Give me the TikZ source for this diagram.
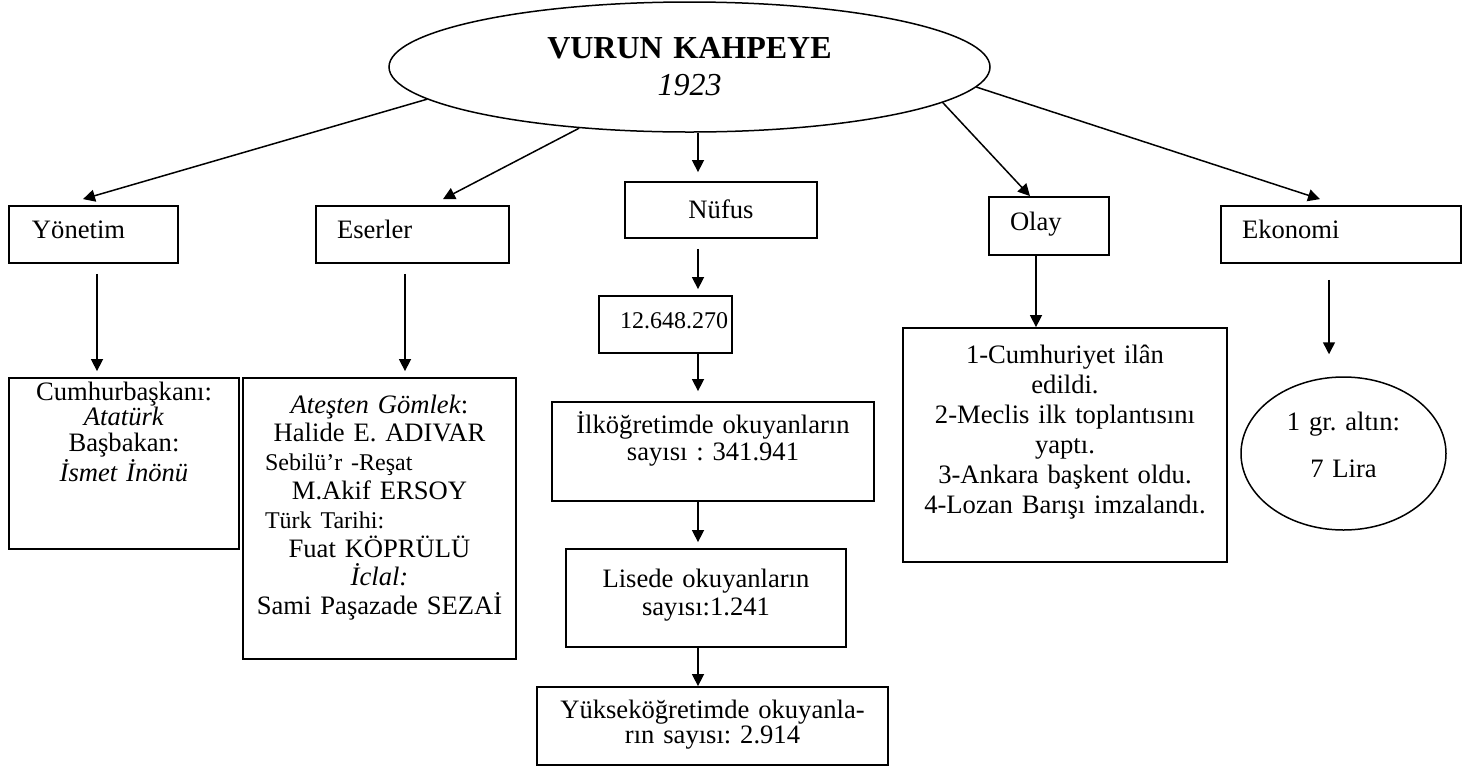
\documentclass[tikz,border=0pt]{standalone}
\usepackage{fontspec}
\setmainfont{Liberation Serif}
\usetikzlibrary{shapes.geometric, calc, arrows.meta}

\begin{document}
\frenchspacing
\begin{tikzpicture}[x=0.5pt, y=-0.5pt,
		box/.style={draw, line width=0.9pt, inner sep=0pt, font=\fontsize{13.3pt}{14.4pt}\selectfont},
		kap/.style={box, align=left, inner xsep=10.5pt, text height=16pt, text depth=12.5pt},
		orta/.style={box, align=center},
		oval/.style={box, ellipse, align=center, line width=0.75pt},
		arr/.style={-{Triangle[length=6pt,width=6pt]}, line width=0.75pt}]
	\useasboundingbox (0,0) rectangle (1463,767);
	
	\node[oval, minimum width=300.5pt, minimum height=65pt, text width=150pt, text height=13pt, text depth=22pt,
		font=\fontsize{16pt}{18.5pt}\selectfont] (top) at (689.5,67) {\textbf{VURUN KAHPEYE}\\ \textit{1923}};
	
	% ikinci sira
	\node[kap, text width=61.5pt, inner xsep=11.5pt] (yon) at (93.5,234.5) {Yönetim};
	\node[kap, text width=75.5pt] (eser) at (412.5,234.5) {Eserler};
	\node[orta, text width=96pt, text height=18pt, text depth=10pt] (nuf) at (721,210) {Nüfus};
	\node[kap, text width=39pt, text height=16.5pt] (olay) at (1049,226) {Olay};
	\node[kap, text width=99pt] (eko) at (1341,234.5) {Ekonomi};
	
	% alt kutular
	\node[kap, text width=66.5pt, inner xsep=0pt, font=\fontsize{12pt}{14.4pt}\selectfont] (nufsay) at (665.5,324.5)
		{\hspace*{10.5pt}12.648.270};
	\node[orta, text width=115pt, text height=11pt, text depth=74.5pt,
		font=\fontsize{13.3pt}{12.85pt}\selectfont] (cumhur) at (124,463.5)
		{Cumhurbaşkanı:\\ \textit{Atatürk}\\ Başbakan:\\ \textit{İsmet İnönü}};
	\node[orta, text width=136.5pt, text height=17.5pt, text depth=123pt] (eserb) at (379.5,518.5)
		{\textit{Ateşten Gömlek}:\\ Halide E. ADIVAR\\
		\makebox[\linewidth][l]{\hspace*{11pt}\fontsize{12pt}{14.4pt}\selectfont Sebilü’r -Reşat}\\
		M.Akif ERSOY\\
		\makebox[\linewidth][l]{\hspace*{11pt}\fontsize{12pt}{14.4pt}\selectfont Türk Tarihi:}\\
		Fuat KÖPRÜLÜ\\ \textit{İclal:}\\ Sami Paşazade SEZAİ};
	\node[orta, text width=161pt, text height=15.5pt, text depth=34pt,
		font=\fontsize{13.3pt}{13.5pt}\selectfont] (ilk) at (713,451.5) {İlköğretimde okuyanların\\ sayısı : 341.941};
	\node[orta, text width=140pt, text height=19pt, text depth=30pt,
		font=\fontsize{13.3pt}{14pt}\selectfont] (lise) at (706,598) {Lisede okuyanların\\ sayısı:1.241};
	\node[orta, text width=175.5pt, text height=15.5pt, text depth=23.5pt,
		font=\fontsize{13.3pt}{12.5pt}\selectfont] (yuk) at (712.5,726) {Yükseköğretimde okuyanla-\\ rın sayısı: 2.914};
	\node[orta, text width=162pt, text height=17.5pt, text depth=99.5pt,
		font=\fontsize{13.3pt}{15pt}\selectfont] (olayb) at (1065,445)
		{1-Cumhuriyet ilân\\ edildi.\\ 2-Meclis ilk toplantısını\\ yaptı.\\ 3-Ankara başkent oldu.\\ 4-Lozan Barışı imzalandı.};
	\node[oval, minimum width=102.5pt, minimum height=76.5pt, text width=70pt, text height=10pt, text depth=33.5pt,
		font=\fontsize{13.3pt}{23.5pt}\selectfont] (kur) at (1343.5,453.5) {1 gr. altın:\\ 7 Lira};
	
	\coordinate (ncol) at (698,0);
	
	\path[arr] (top.187.4) edge ($(yon.north)+(-10.5,-6)$)
		(top.209.7) edge ($(eser.north)+(30.5,-6)$)
		(top.south -| ncol) edge ($(nuf.north -| ncol)+(0,-9)$)
		(top.352.7) edge ($(olay.north)+(-19,0)$)
		(top.356.8) edge ($(eko.north)+(-21,-6)$)
		($(yon.south)+(3.5,10)$) edge ($(cumhur.north -| yon.south)+(3.5,-6)$)
		($(eser.south)+(-7.5,10)$) edge ($(eserb.north -| eser.south)+(-7.5,-6)$)
		($(nuf.south -| ncol)+(0,10)$) edge ($(nufsay.north -| ncol)+(0,-6)$)
		(nufsay.south -| ncol) edge ($(ilk.north -| ncol)+(0,-10)$)
		(ilk.south -| ncol) edge ($(lise.north -| ncol)+(0,-6)$)
		(lise.south -| ncol) edge (yuk.north -| ncol)
		($(olay.south)+(-13,0)$) edge ($(olayb.north -| olay.south)+(-13,0)$)
		($(eko.south)+(-12,16)$) edge ($(kur.north -| eko.south)+(-12,-22)$)
		;
\end{tikzpicture}
\end{document}
